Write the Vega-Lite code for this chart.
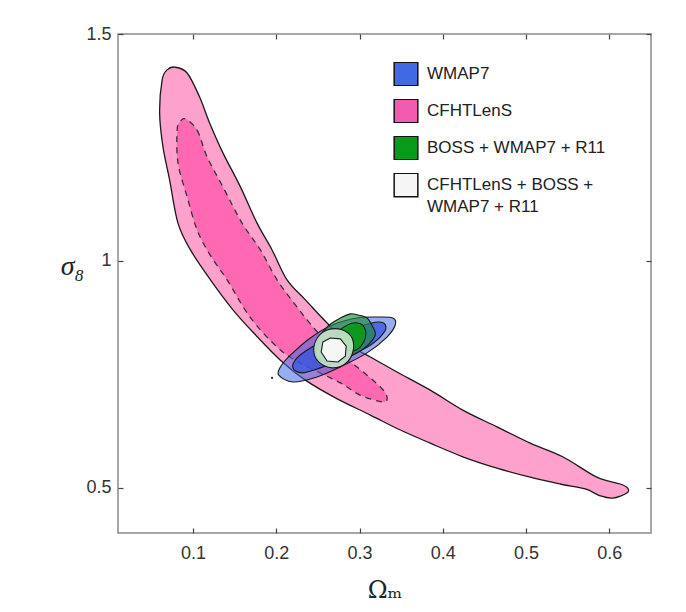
{
  "$schema": "https://vega.github.io/schema/vega-lite/v6.json",
  "width": 533,
  "height": 499,
  "autosize": "none",
  "padding": {"left": 118, "top": 34, "right": 35, "bottom": 79},
  "background": "white",
  "config": {
    "view": {"stroke": "#8a8a8a", "strokeWidth": 1.5},
    "axis": {"grid": false, "domain": false, "labelFont": "Liberation Sans", "labelFontSize": 18, "labelColor": "#333", "tickColor": "#444", "tickWidth": 1.2}
  },
  "datasets": {
    "contours": [
      {"region":"cfht_outer","i":0,"om":0.078,"s8":1.427},
      {"region":"cfht_outer","i":1,"om":0.093,"s8":1.414},
      {"region":"cfht_outer","i":2,"om":0.108,"s8":1.361},
      {"region":"cfht_outer","i":3,"om":0.120,"s8":1.304},
      {"region":"cfht_outer","i":4,"om":0.136,"s8":1.238},
      {"region":"cfht_outer","i":5,"om":0.157,"s8":1.163},
      {"region":"cfht_outer","i":6,"om":0.177,"s8":1.083},
      {"region":"cfht_outer","i":7,"om":0.195,"s8":1.024},
      {"region":"cfht_outer","i":8,"om":0.213,"s8":0.958},
      {"region":"cfht_outer","i":9,"om":0.235,"s8":0.914},
      {"region":"cfht_outer","i":10,"om":0.261,"s8":0.863},
      {"region":"cfht_outer","i":11,"om":0.289,"s8":0.814},
      {"region":"cfht_outer","i":12,"om":0.313,"s8":0.788},
      {"region":"cfht_outer","i":13,"om":0.345,"s8":0.755},
      {"region":"cfht_outer","i":14,"om":0.385,"s8":0.715},
      {"region":"cfht_outer","i":15,"om":0.424,"s8":0.671},
      {"region":"cfht_outer","i":16,"om":0.465,"s8":0.634},
      {"region":"cfht_outer","i":17,"om":0.505,"s8":0.598},
      {"region":"cfht_outer","i":18,"om":0.544,"s8":0.568},
      {"region":"cfht_outer","i":19,"om":0.585,"s8":0.523},
      {"region":"cfht_outer","i":20,"om":0.613,"s8":0.508},
      {"region":"cfht_outer","i":21,"om":0.622,"s8":0.499},
      {"region":"cfht_outer","i":22,"om":0.621,"s8":0.488},
      {"region":"cfht_outer","i":23,"om":0.604,"s8":0.477},
      {"region":"cfht_outer","i":24,"om":0.589,"s8":0.482},
      {"region":"cfht_outer","i":25,"om":0.571,"s8":0.497},
      {"region":"cfht_outer","i":26,"om":0.541,"s8":0.508},
      {"region":"cfht_outer","i":27,"om":0.505,"s8":0.523},
      {"region":"cfht_outer","i":28,"om":0.465,"s8":0.543},
      {"region":"cfht_outer","i":29,"om":0.424,"s8":0.568},
      {"region":"cfht_outer","i":30,"om":0.385,"s8":0.598},
      {"region":"cfht_outer","i":31,"om":0.349,"s8":0.627},
      {"region":"cfht_outer","i":32,"om":0.313,"s8":0.660},
      {"region":"cfht_outer","i":33,"om":0.271,"s8":0.698},
      {"region":"cfht_outer","i":34,"om":0.235,"s8":0.737},
      {"region":"cfht_outer","i":35,"om":0.205,"s8":0.781},
      {"region":"cfht_outer","i":36,"om":0.175,"s8":0.837},
      {"region":"cfht_outer","i":37,"om":0.148,"s8":0.892},
      {"region":"cfht_outer","i":38,"om":0.121,"s8":0.958},
      {"region":"cfht_outer","i":39,"om":0.097,"s8":1.024},
      {"region":"cfht_outer","i":40,"om":0.082,"s8":1.083},
      {"region":"cfht_outer","i":41,"om":0.072,"s8":1.178},
      {"region":"cfht_outer","i":42,"om":0.064,"s8":1.251},
      {"region":"cfht_outer","i":43,"om":0.060,"s8":1.326},
      {"region":"cfht_outer","i":44,"om":0.063,"s8":1.399},
      {"region":"cfht_outer","i":45,"om":0.069,"s8":1.421},

      {"region":"cfht_inner","i":0,"om":0.0905,"s8":1.313},
      {"region":"cfht_inner","i":1,"om":0.105,"s8":1.288},
      {"region":"cfht_inner","i":2,"om":0.117,"s8":1.229},
      {"region":"cfht_inner","i":3,"om":0.136,"s8":1.163},
      {"region":"cfht_inner","i":4,"om":0.159,"s8":1.083},
      {"region":"cfht_inner","i":5,"om":0.181,"s8":1.024},
      {"region":"cfht_inner","i":6,"om":0.201,"s8":0.958},
      {"region":"cfht_inner","i":7,"om":0.223,"s8":0.903},
      {"region":"cfht_inner","i":8,"om":0.247,"s8":0.848},
      {"region":"cfht_inner","i":9,"om":0.277,"s8":0.792},
      {"region":"cfht_inner","i":10,"om":0.297,"s8":0.766},
      {"region":"cfht_inner","i":11,"om":0.325,"s8":0.722},
      {"region":"cfht_inner","i":12,"om":0.333,"s8":0.700},
      {"region":"cfht_inner","i":13,"om":0.328,"s8":0.689},
      {"region":"cfht_inner","i":14,"om":0.3006,"s8":0.704},
      {"region":"cfht_inner","i":15,"om":0.277,"s8":0.731},
      {"region":"cfht_inner","i":16,"om":0.2285,"s8":0.775},
      {"region":"cfht_inner","i":17,"om":0.201,"s8":0.810},
      {"region":"cfht_inner","i":18,"om":0.1685,"s8":0.876},
      {"region":"cfht_inner","i":19,"om":0.141,"s8":0.958},
      {"region":"cfht_inner","i":20,"om":0.1205,"s8":1.013},
      {"region":"cfht_inner","i":21,"om":0.105,"s8":1.068},
      {"region":"cfht_inner","i":22,"om":0.093,"s8":1.141},
      {"region":"cfht_inner","i":23,"om":0.082,"s8":1.216},
      {"region":"cfht_inner","i":24,"om":0.081,"s8":1.288},
      {"region":"cfht_inner","i":25,"om":0.0845,"s8":1.306},

      {"region":"wmap_outer","i":0,"om":0.203,"s8":0.748},
      {"region":"wmap_outer","i":1,"om":0.220,"s8":0.733},
      {"region":"wmap_outer","i":2,"om":0.249,"s8":0.744},
      {"region":"wmap_outer","i":3,"om":0.277,"s8":0.766},
      {"region":"wmap_outer","i":4,"om":0.309,"s8":0.797},
      {"region":"wmap_outer","i":5,"om":0.333,"s8":0.832},
      {"region":"wmap_outer","i":6,"om":0.343,"s8":0.859},
      {"region":"wmap_outer","i":7,"om":0.340,"s8":0.874},
      {"region":"wmap_outer","i":8,"om":0.321,"s8":0.876},
      {"region":"wmap_outer","i":9,"om":0.297,"s8":0.874},
      {"region":"wmap_outer","i":10,"om":0.268,"s8":0.859},
      {"region":"wmap_outer","i":11,"om":0.241,"s8":0.830},
      {"region":"wmap_outer","i":12,"om":0.217,"s8":0.792},
      {"region":"wmap_outer","i":13,"om":0.205,"s8":0.766},

      {"region":"wmap_inner","i":0,"om":0.220,"s8":0.764},
      {"region":"wmap_inner","i":1,"om":0.231,"s8":0.753},
      {"region":"wmap_inner","i":2,"om":0.253,"s8":0.764},
      {"region":"wmap_inner","i":3,"om":0.283,"s8":0.786},
      {"region":"wmap_inner","i":4,"om":0.313,"s8":0.814},
      {"region":"wmap_inner","i":5,"om":0.329,"s8":0.841},
      {"region":"wmap_inner","i":6,"om":0.331,"s8":0.859},
      {"region":"wmap_inner","i":7,"om":0.322,"s8":0.865},
      {"region":"wmap_inner","i":8,"om":0.301,"s8":0.856},
      {"region":"wmap_inner","i":9,"om":0.271,"s8":0.837},
      {"region":"wmap_inner","i":10,"om":0.243,"s8":0.810},
      {"region":"wmap_inner","i":11,"om":0.225,"s8":0.786},

      {"region":"boss_outer","i":0,"om":0.249,"s8":0.819},
      {"region":"boss_outer","i":1,"om":0.261,"s8":0.854},
      {"region":"boss_outer","i":2,"om":0.277,"s8":0.874},
      {"region":"boss_outer","i":3,"om":0.289,"s8":0.883},
      {"region":"boss_outer","i":4,"om":0.297,"s8":0.881},
      {"region":"boss_outer","i":5,"om":0.309,"s8":0.874},
      {"region":"boss_outer","i":6,"om":0.316,"s8":0.854},
      {"region":"boss_outer","i":7,"om":0.319,"s8":0.837},
      {"region":"boss_outer","i":8,"om":0.310,"s8":0.814},
      {"region":"boss_outer","i":9,"om":0.297,"s8":0.797},
      {"region":"boss_outer","i":10,"om":0.277,"s8":0.781},
      {"region":"boss_outer","i":11,"om":0.261,"s8":0.777},
      {"region":"boss_outer","i":12,"om":0.249,"s8":0.788},

      {"region":"boss_inner","i":0,"om":0.273,"s8":0.837},
      {"region":"boss_inner","i":1,"om":0.283,"s8":0.856},
      {"region":"boss_inner","i":2,"om":0.298,"s8":0.863},
      {"region":"boss_inner","i":3,"om":0.307,"s8":0.848},
      {"region":"boss_inner","i":4,"om":0.305,"s8":0.821},
      {"region":"boss_inner","i":5,"om":0.295,"s8":0.803},
      {"region":"boss_inner","i":6,"om":0.283,"s8":0.806},

      {"region":"comb_outer","i":0,"om":0.245,"s8":0.803},
      {"region":"comb_outer","i":1,"om":0.250,"s8":0.832},
      {"region":"comb_outer","i":2,"om":0.262,"s8":0.848},
      {"region":"comb_outer","i":3,"om":0.279,"s8":0.848},
      {"region":"comb_outer","i":4,"om":0.291,"s8":0.830},
      {"region":"comb_outer","i":5,"om":0.292,"s8":0.799},
      {"region":"comb_outer","i":6,"om":0.283,"s8":0.773},
      {"region":"comb_outer","i":7,"om":0.267,"s8":0.764},
      {"region":"comb_outer","i":8,"om":0.251,"s8":0.777},

      {"region":"comb_inner","i":0,"om":0.254,"s8":0.799},
      {"region":"comb_inner","i":1,"om":0.256,"s8":0.821},
      {"region":"comb_inner","i":2,"om":0.265,"s8":0.830},
      {"region":"comb_inner","i":3,"om":0.277,"s8":0.828},
      {"region":"comb_inner","i":4,"om":0.284,"s8":0.812},
      {"region":"comb_inner","i":5,"om":0.283,"s8":0.790},
      {"region":"comb_inner","i":6,"om":0.274,"s8":0.777},
      {"region":"comb_inner","i":7,"om":0.261,"s8":0.779}
    ]
  },
  "layer": [
    {
      "data": {"name": "contours"},
      "encoding": {
        "x": {"field": "om", "type": "quantitative",
          "scale": {"domain": [0.01, 0.65], "nice": false, "zero": false},
          "axis": {"orient": "bottom", "values": [0.1, 0.2, 0.3, 0.4, 0.5, 0.6], "tickSize": -5, "labelPadding": 16,
            "title": "Ωₘ", "titleFont": "DejaVu Serif", "titleFontSize": 24, "titleFontWeight": "normal", "titleColor": "#222",
            "titleY": 64, "titleBaseline": "alphabetic"}},
        "y": {"field": "s8", "type": "quantitative",
          "scale": {"domain": [0.4, 1.5], "nice": false, "zero": false},
          "axis": {"orient": "left", "values": [0.5, 1, 1.5], "format": "~g", "tickSize": -5, "labelPadding": 12,
            "title": "σ₈", "titleFont": "Liberation Serif", "titleFontStyle": "italic", "titleFontSize": 28, "titleFontWeight": "normal", "titleColor": "#222",
            "titleAngle": 0, "titleX": -46, "titleY": 240, "titleAlign": "center", "titleBaseline": "alphabetic"}},
        "order": {"field": "i", "type": "quantitative"}
      },
      "layer": [
        {"transform": [{"filter": "datum.region === 'cfht_outer'"}],
         "mark": {"type": "line", "filled": true, "fill": "#FFA1CD", "stroke": "#1a1a1a", "strokeWidth": 1.3, "interpolate": "cardinal-closed", "strokeJoin": "round"}},
        {"transform": [{"filter": "datum.region === 'cfht_inner'"}],
         "mark": {"type": "line", "filled": true, "fill": "#FF68B3", "stroke": "#333333", "strokeWidth": 1.3, "strokeDash": [6, 5], "interpolate": "cardinal-closed", "strokeJoin": "round"}},
        {"transform": [{"filter": "datum.region === 'wmap_outer'"}],
         "mark": {"type": "line", "filled": true, "fill": "#4169E1", "fillOpacity": 0.55, "stroke": "#1a1a1a", "strokeWidth": 1.1, "interpolate": "cardinal-closed", "strokeJoin": "round"}},
        {"transform": [{"filter": "datum.region === 'wmap_inner'"}],
         "mark": {"type": "line", "filled": true, "fill": "#3355DD", "fillOpacity": 0.75, "stroke": "#1a1a1a", "strokeWidth": 1.1, "interpolate": "cardinal-closed", "strokeJoin": "round"}},
        {"transform": [{"filter": "datum.region === 'boss_outer'"}],
         "mark": {"type": "line", "filled": true, "fill": "#1E8C3C", "fillOpacity": 0.65, "stroke": "#1a1a1a", "strokeWidth": 1.1, "interpolate": "cardinal-closed", "strokeJoin": "round"}},
        {"transform": [{"filter": "datum.region === 'boss_inner'"}],
         "mark": {"type": "line", "filled": true, "fill": "#0A9A1A", "fillOpacity": 0.9, "stroke": "#1a1a1a", "strokeWidth": 1.1, "interpolate": "cardinal-closed", "strokeJoin": "round"}},
        {"transform": [{"filter": "datum.region === 'comb_outer'"}],
         "mark": {"type": "line", "filled": true, "fill": "#C8E6CB", "fillOpacity": 0.9, "stroke": "#1a1a1a", "strokeWidth": 1.1, "interpolate": "cardinal-closed", "strokeJoin": "round"}},
        {"transform": [{"filter": "datum.region === 'comb_inner'"}],
         "mark": {"type": "line", "filled": true, "fill": "#F4F7F4", "stroke": "#1a1a1a", "strokeWidth": 1.1, "interpolate": "linear-closed", "strokeJoin": "round"}}
      ]
    },
    {
      "data": {"values": [
        {"series": "WMAP7"},
        {"series": "CFHTLenS"},
        {"series": "BOSS + WMAP7 + R11"},
        {"series": "CFHTLenS + BOSS + WMAP7 + R11"}
      ]},
      "mark": {"type": "square", "opacity": 0, "stroke": "#111111", "strokeWidth": 1.5},
      "encoding": {
        "fill": {"field": "series", "type": "nominal",
          "scale": {"domain": ["WMAP7", "CFHTLenS", "BOSS + WMAP7 + R11", "CFHTLenS + BOSS + WMAP7 + R11"],
                    "range": ["#4169E1", "#F25CB0", "#0A9A1A", "#F5F5F5"]},
          "legend": {"orient": "none", "legendX": 275, "legendY": 28, "title": null, "padding": 0,
            "symbolType": "square", "symbolSize": 560, "symbolStrokeColor": "#111111", "symbolStrokeWidth": 1.5, "symbolOpacity": 1,
            "labelFont": "Liberation Sans", "labelFontSize": 17, "labelColor": "#222", "labelOffset": 8, "labelLimit": 0,
            "clipHeight": 24, "rowPadding": 13,
            "labelExpr": "datum.label == 'CFHTLenS + BOSS + WMAP7 + R11' ? ['CFHTLenS + BOSS +', 'WMAP7 + R11'] : datum.label",
            "encode": {"labels": {"update": {"lineHeight": {"value": 22}}}}}}
      }
    },
    {
      "data": {"values": [{"om": 0.195, "s8": 0.742}]},
      "mark": {"type": "point", "filled": true, "size": 6, "color": "#333333", "opacity": 1},
      "encoding": {
        "x": {"field": "om", "type": "quantitative",
          "axis": {"orient": "top", "values": [0.1, 0.2, 0.3, 0.4, 0.5, 0.6], "labels": false, "tickSize": -5, "title": null}},
        "y": {"field": "s8", "type": "quantitative",
          "axis": {"orient": "right", "values": [0.5, 1, 1.5], "labels": false, "tickSize": -5, "title": null}}
      }
    }
  ],
  "resolve": {"axis": {"x": "independent", "y": "independent"}}
}
